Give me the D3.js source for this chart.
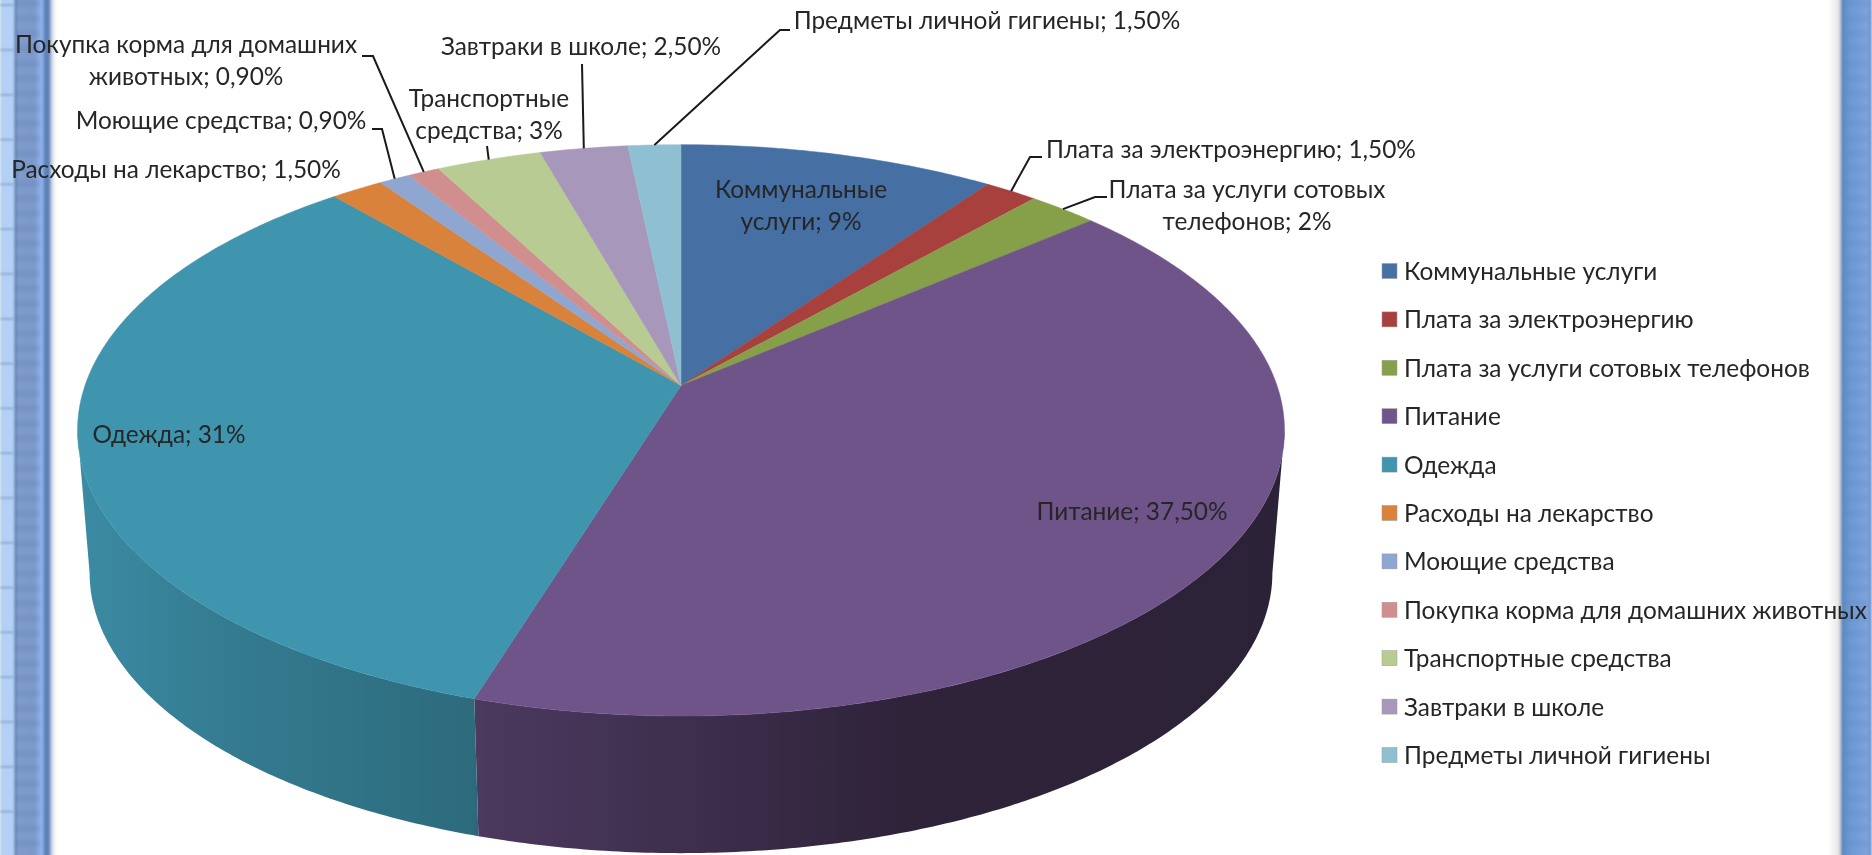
<!DOCTYPE html>
<html>
<head>
<meta charset="utf-8">
<script src="https://cdn.jsdelivr.net/npm/d3@7"></script>
<style>
	html, body { margin: 0; padding: 0; background: #fff; overflow: hidden; }
	text { font-family: "Lato", "Open Sans", sans-serif; fill: #262626; }
</style>
</head>
<body>
<div id="chart"></div>
<script>
// data
const categories = ["Коммунальные услуги", "Плата за электроэнергию", "Плата за услуги сотовых телефонов", "Питание", "Одежда", "Расходы на лекарство", "Моющие средства", "Покупка корма для домашних животных", "Транспортные средства", "Завтраки в школе", "Предметы личной гигиены"];
const shares = [9, 1.5, 2, 37.5, 31, 1.5, 0.9, 0.9, 3, 2.5, 1.5];
const colors = ["#466fa3", "#a8403e", "#86a04a", "#6f548a", "#3f94ae", "#d9823b", "#8fa6d0", "#d08f8e", "#b7cb92", "#a697bb", "#8fc0d2"];

// label wrapping and placement, same order as categories
const labelLines = [["Коммунальные", "услуги; 9%"], ["Плата за электроэнергию; 1,50%"], ["Плата за услуги сотовых", "телефонов; 2%"], ["Питание; 37,50%"], ["Одежда; 31%"], ["Расходы на лекарство; 1,50%"], ["Моющие средства; 0,90%"], ["Покупка корма для домашних", "животных; 0,90%"], ["Транспортные", "средства; 3%"], ["Завтраки в школе; 2,50%"], ["Предметы личной гигиены; 1,50%"]];
const labelX = [801, 1231, 1247, 1132, 169, 176, 221, 186, 489, 581, 987];
const labelY = [198, 158, 198, 520, 443, 178, 129, 53, 107, 55, 29];
// leader bends, null where the label sits on the slice
const leaderBends = [null, [[1030, 157], [1042, 157]], [[1095, 197], [1107, 197]], null, null, null, [[382, 129], [372, 129]], [[373, 56], [362, 56]], [[487, 146]], [[582, 64]], [[780, 30], [790, 30]]];

const width = 1872, height = 855;
const fontSize = 24.4, lineGap = 31.5;

const svg = d3.select("#chart").append("svg")
	.attr("width", width)
	.attr("height", height)
	.style("display", "block");
const defs = svg.append("defs");

// ---- page frame on both sides
const soft = defs.append("filter").attr("id", "soft");
soft.append("feGaussianBlur").attr("stdDeviation", 0.9);
const textSoft = defs.append("filter").attr("id", "textSoft");
textSoft.append("feGaussianBlur").attr("stdDeviation", 0.35);

function hGrad(id, stops) {
	let g = defs.append("linearGradient").attr("id", id);
	stops.forEach(s => g.append("stop").attr("offset", s[0]).attr("stop-color", s[1]));
}
hGrad("bandLeft", [[0, "#b4d1f5"], [0.24, "#b4d1f5"], [0.27, "#5f7fb0"], [0.32, "#7f9bcb"], [0.62, "#7d99cc"], [0.72, "#8eb0ea"], [0.76, "#8eb0ea"], [0.8, "#5d80b6"], [0.88, "#5d80b6"], [0.92, "#c9d3e2"], [1, "#ffffff"]]);
hGrad("bandRight", [[0, "#ffffff"], [0.22, "#e9e9e9"], [0.29, "#c4c8ce"], [0.3, "#5b87bf"], [0.5, "#6d98d2"], [0.92, "#7fa4de"], [0.96, "#5c82b8"], [1, "#a9c4e8"]]);

const frame = svg.append("g").attr("filter", "url(#soft)");
frame.append("rect").attr("x", 0).attr("y", -5).attr("width", 56).attr("height", height + 10).attr("fill", "url(#bandLeft)");
frame.append("rect").attr("x", 1828).attr("y", -5).attr("width", 44).attr("height", height + 10).attr("fill", "url(#bandRight)");
const frameRows = d3.range(5.2, height, 44.8);
frame.selectAll(".row-line").data(frameRows).join("line")
	.attr("x1", 0).attr("x2", 13)
	.attr("y1", d => d).attr("y2", d => d)
	.attr("stroke", "#7d9ac8").attr("stroke-width", 1.5);
frame.selectAll(".mesh").data(d3.range(0, height, 15)).join("rect")
	.attr("x", 14).attr("y", d => d).attr("width", 26).attr("height", 7)
	.attr("fill", "#5f7fb0").attr("opacity", 0.22);
frame.selectAll(".mesh-right").data(d3.range(0, height, 15)).join("rect")
	.attr("x", 1845).attr("y", d => d).attr("width", 23).attr("height", 7)
	.attr("fill", "#5f88c0").attr("opacity", 0.2);

// ---- pie, the flat disc is seen in perspective so the centre sits above the ellipse middle
const pie = d3.pie().sort(null).value(d => d)(shares);

const cx = 681, cy = 385.6;
const sideA = 596, sideB = 278.7, tilt = 0.1566;
const wallDrop = 143.7, wallShrink = 0.98;

// angle is clockwise from the top, as d3.pie gives it
function project(angle, bottom) {
	let x = Math.sin(angle), y = -Math.cos(angle);
	let w = 1 - tilt * y;
	let s = bottom ? wallShrink : 1;
	return [cx + s * sideA * x / w, cy + (bottom ? wallDrop : 0) + s * sideB * y / w];
}

function arcPoints(a0, a1, bottom) {
	let n = Math.max(2, Math.ceil((a1 - a0) / 0.01));
	return d3.range(n + 1).map(i => project(a0 + (a1 - a0) * i / n, bottom));
}
const line = d3.line();

// the wall only shows between the widest points of the ellipse
const wallFrom = Math.PI - Math.acos(tilt), wallTo = Math.PI + Math.acos(tilt);

// the wall gets darker to the right
const wallShade = d3.scaleLinear()
	.domain([77, 230, 472, 480, 700, 900, 1285])
	.range([0.94, 0.83, 0.72, 0.68, 0.55, 0.42, 0.4]);

pie.forEach((d, i) => {
	let g = defs.append("linearGradient")
		.attr("id", "wall" + i)
		.attr("gradientUnits", "userSpaceOnUse")
		.attr("x1", 77).attr("x2", 1285).attr("y1", 0).attr("y2", 0);
	wallShade.domain().forEach(x => {
		let c = d3.rgb(colors[i]);
		let k = wallShade(x);
		g.append("stop")
			.attr("offset", (x - 77) / (1285 - 77))
			.attr("stop-color", d3.rgb(c.r * k, c.g * k, c.b * k).formatHex());
	});
});

const chart = svg.append("g");
chart.selectAll(".wall").data(pie.filter(d => d.endAngle > wallFrom && d.startAngle < wallTo)).join("path")
	.attr("class", "wall")
	.attr("fill", d => "url(#wall" + d.index + ")")
	.attr("d", d => {
		let a0 = Math.max(d.startAngle, wallFrom), a1 = Math.min(d.endAngle, wallTo);
		return line(arcPoints(a0, a1, false).concat(arcPoints(a0, a1, true).reverse())) + "Z";
	});

chart.selectAll(".slice").data(pie).join("path")
	.attr("class", "slice")
	.attr("fill", (d, i) => colors[i])
	.attr("stroke", (d, i) => colors[i])
	.attr("stroke-width", 0.5)
	.attr("d", d => line([[cx, cy]].concat(arcPoints(d.startAngle, d.endAngle, false))) + "Z");

// ---- leaders
chart.selectAll(".leader").data(pie.filter((d, i) => leaderBends[i])).join("path")
	.attr("class", "leader")
	.attr("fill", "none")
	.attr("stroke", "#1a1a1a")
	.attr("stroke-width", 2)
	.attr("d", d => line([project((d.startAngle + d.endAngle) / 2, false)].concat(leaderBends[d.index])));

// ---- labels
const labels = svg.append("g").attr("filter", "url(#textSoft)");
labels.selectAll(".label").data(categories).join("text")
	.attr("class", "label")
	.attr("font-size", fontSize)
	.attr("text-anchor", "middle")
	.attr("y", (d, i) => labelY[i])
	.each(function(d, i) {
		d3.select(this).selectAll("tspan").data(labelLines[i]).join("tspan")
			.attr("x", labelX[i])
			.attr("dy", (t, j) => j ? lineGap : 0)
			.text(t => t);
	});

// ---- legend
const legendY = d3.scalePoint().domain(categories).range([271, 755]);
const legend = labels.selectAll(".legend").data(categories).join("g")
	.attr("class", "legend")
	.attr("transform", d => "translate(1382," + legendY(d) + ")");
legend.append("rect")
	.attr("y", -7.5).attr("width", 15).attr("height", 15)
	.attr("fill", (d, i) => colors[i])
	.attr("stroke", "#9a9a9a").attr("stroke-width", 0.5);
legend.append("text")
	.attr("x", 22).attr("y", 9)
	.attr("font-size", fontSize)
	.text(d => d);
</script>
</body>
</html>
